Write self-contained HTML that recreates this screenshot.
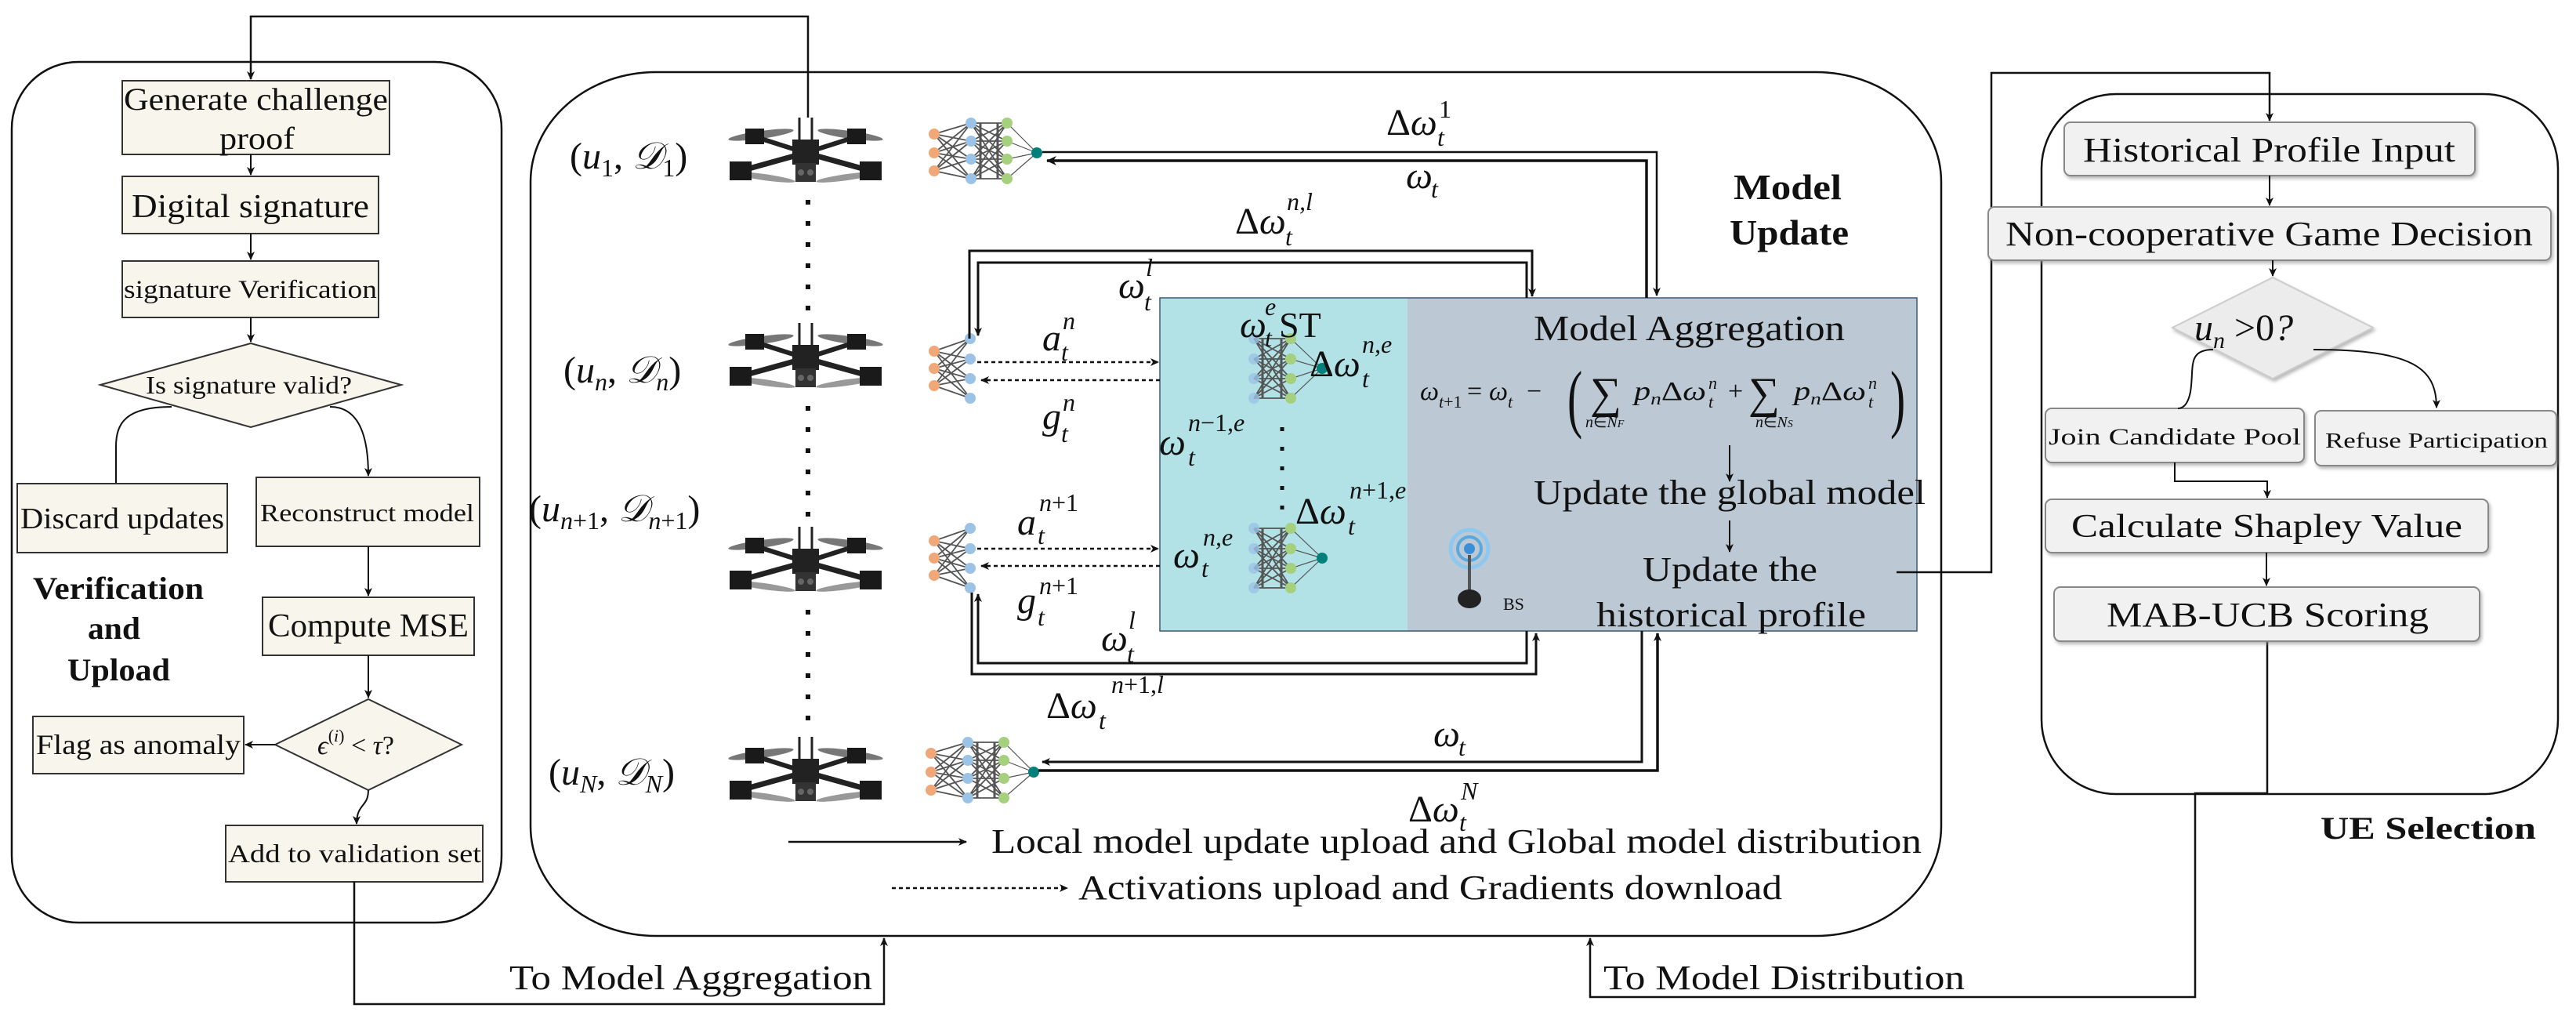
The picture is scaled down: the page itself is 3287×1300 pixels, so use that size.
<!DOCTYPE html>
<html><head><meta charset="utf-8"><style>
html,body{margin:0;padding:0;background:#fff;}
svg{display:block;}
text{font-family:"Liberation Serif",serif;fill:#111;}
.it{font-style:italic;}
</style></head><body>
<svg width="3287" height="1300" viewBox="0 0 3287 1300" xmlns="http://www.w3.org/2000/svg">
<defs>
<marker id="ar" markerWidth="14" markerHeight="12" refX="12" refY="6" orient="auto" markerUnits="userSpaceOnUse"><path d="M0,0 L13,6 L0,12 L4,6 Z" fill="#111"/></marker>
<marker id="ars" markerWidth="12" markerHeight="10" refX="10" refY="5" orient="auto" markerUnits="userSpaceOnUse"><path d="M0,0 L11,5 L0,10 L3,5 Z" fill="#111"/></marker>
<filter id="sh" x="-5%" y="-10%" width="110%" height="130%"><feDropShadow dx="2" dy="3" stdDeviation="2" flood-color="#888" flood-opacity="0.6"/></filter>
<symbol id="drone" viewBox="0 0 210 90" width="210" height="90">
<rect x="0" y="0" width="210" height="90" fill="#fff"/>
<line x1="97" y1="0" x2="97" y2="32" stroke="#222" stroke-width="3"/>
<line x1="113" y1="0" x2="113" y2="32" stroke="#222" stroke-width="3"/>
<ellipse cx="48" cy="22" rx="42" ry="5" fill="#777" transform="rotate(-8 48 22)"/>
<ellipse cx="162" cy="22" rx="42" ry="5" fill="#777" transform="rotate(8 162 22)"/>
<ellipse cx="52" cy="76" rx="40" ry="4" fill="#999" transform="rotate(8 52 76)"/>
<ellipse cx="158" cy="76" rx="40" ry="4" fill="#999" transform="rotate(-8 158 76)"/>
<line x1="105" y1="45" x2="22" y2="68" stroke="#222" stroke-width="7"/>
<line x1="105" y1="45" x2="188" y2="68" stroke="#222" stroke-width="7"/>
<line x1="105" y1="45" x2="42" y2="25" stroke="#222" stroke-width="6"/>
<line x1="105" y1="45" x2="168" y2="25" stroke="#222" stroke-width="6"/>
<rect x="8" y="56" width="28" height="24" fill="#1a1a1a"/>
<rect x="174" y="56" width="28" height="24" fill="#1a1a1a"/>
<rect x="28" y="14" width="24" height="20" fill="#1a1a1a"/>
<rect x="158" y="14" width="24" height="20" fill="#1a1a1a"/>
<rect x="88" y="28" width="34" height="32" fill="#222"/>
<rect x="92" y="58" width="26" height="24" fill="#333"/>
<circle cx="99" cy="70" r="4" fill="#666"/><circle cx="111" cy="70" r="4" fill="#666"/>
</symbol>
<g id="nnfull">
<g stroke="#555" stroke-width="1.8">
<path d="M7,21L54,7M7,21L54,30M7,21L54,53M7,21L54,78M7,45L54,7M7,45L54,30M7,45L54,53M7,45L54,78M7,68L54,7M7,68L54,30M7,68L54,53M7,68L54,78"/>
<path d="M54,7L100,7M54,7L100,30M54,7L100,53M54,7L100,78M54,30L100,7M54,30L100,30M54,30L100,53M54,30L100,78M54,53L100,7M54,53L100,30M54,53L100,53M54,53L100,78M54,78L100,7M54,78L100,30M54,78L100,53M54,78L100,78"/>
<path d="M66,7V78M88,7V78" stroke-width="3"/>
<path d="M100,7L138,45M100,30L138,45M100,53L138,45M100,78L138,45" stroke-width="1.2"/>
</g>
<g fill="#f0a878"><circle cx="7" cy="21" r="7"/><circle cx="7" cy="45" r="7"/><circle cx="7" cy="68" r="7"/></g>
<g fill="#9cc3e6"><circle cx="54" cy="7" r="7"/><circle cx="54" cy="30" r="7"/><circle cx="54" cy="53" r="7"/><circle cx="54" cy="78" r="7"/></g>
<g fill="#a5d07e"><circle cx="100" cy="7" r="7"/><circle cx="100" cy="30" r="7"/><circle cx="100" cy="53" r="7"/><circle cx="100" cy="78" r="7"/></g>
<circle cx="138" cy="45" r="7" fill="#00807a"/>
</g>
<g id="nnpart">
<g stroke="#555" stroke-width="1.8">
<path d="M7,18L53,2M7,18L53,28M7,18L53,53M7,18L53,78M7,40L53,2M7,40L53,28M7,40L53,53M7,40L53,78M7,62L53,2M7,62L53,28M7,62L53,53M7,62L53,78"/>
</g>
<g fill="#f0a878"><circle cx="7" cy="18" r="7"/><circle cx="7" cy="40" r="7"/><circle cx="7" cy="62" r="7"/></g>
<g fill="#9cc3e6"><circle cx="53" cy="2" r="7"/><circle cx="53" cy="28" r="7"/><circle cx="53" cy="53" r="7"/><circle cx="53" cy="78" r="7"/></g>
</g>
<g id="nnsrv">
<g stroke="#555" stroke-width="1.8">
<path d="M5,2L52,2M5,2L52,28M5,2L52,53M5,2L52,78M5,28L52,2M5,28L52,28M5,28L52,53M5,28L52,78M5,53L52,2M5,53L52,28M5,53L52,53M5,53L52,78M5,78L52,2M5,78L52,28M5,78L52,53M5,78L52,78"/>
<path d="M16,2V78M40,2V78" stroke-width="3"/>
<path d="M52,2L92,40M52,28L92,40M52,53L92,40M52,78L92,40" stroke-width="1.2"/>
</g>
<g fill="#9cc3e6" opacity="0.8"><circle cx="5" cy="2" r="7"/><circle cx="5" cy="28" r="7"/><circle cx="5" cy="53" r="7"/><circle cx="5" cy="78" r="7"/></g>
<g fill="#a5d07e"><circle cx="52" cy="2" r="7"/><circle cx="52" cy="28" r="7"/><circle cx="52" cy="53" r="7"/><circle cx="52" cy="78" r="7"/></g>
<circle cx="92" cy="40" r="7" fill="#00807a"/>
</g>
</defs>

<!-- ===== Panels ===== -->
<rect x="15" y="79" width="625" height="1098" rx="85" ry="85" fill="none" stroke="#111" stroke-width="2.5"/>
<rect x="677" y="92" width="1800" height="1102" rx="160" ry="140" fill="none" stroke="#111" stroke-width="2.5"/>
<rect x="2605" y="120" width="659" height="893" rx="95" ry="95" fill="none" stroke="#111" stroke-width="2.5"/>

<!-- ===== Left flowchart ===== -->
<g fill="#f8f6ec" stroke="#333" stroke-width="2">
<rect x="156" y="103" width="341" height="94"/>
<rect x="156" y="225" width="327" height="73"/>
<rect x="156" y="333" width="327" height="72"/>
<polygon points="128,491 320,438 512,491 320,545"/>
<rect x="22" y="617" width="268" height="88"/>
<rect x="327" y="609" width="285" height="88"/>
<rect x="335" y="762" width="270" height="74"/>
<polygon points="351,950 470,892 589,950 470,1008"/>
<rect x="42" y="914" width="269" height="73"/>
<rect x="288" y="1053" width="328" height="72"/>
</g>
<text x="158" y="140" font-size="40" textLength="337" lengthAdjust="spacingAndGlyphs">Generate challenge</text>
<text x="280" y="190" font-size="40" textLength="96" lengthAdjust="spacingAndGlyphs">proof</text>
<text x="168" y="277" font-size="42" textLength="303" lengthAdjust="spacingAndGlyphs">Digital signature</text>
<text x="158" y="380" font-size="33" textLength="323" lengthAdjust="spacingAndGlyphs">signature Verification</text>
<text x="186" y="502" font-size="32" textLength="263" lengthAdjust="spacingAndGlyphs">Is signature valid?</text>
<text x="26" y="674" font-size="38" textLength="260" lengthAdjust="spacingAndGlyphs">Discard updates</text>
<text x="332" y="665" font-size="32" textLength="273" lengthAdjust="spacingAndGlyphs">Reconstruct model</text>
<text x="342" y="812" font-size="42" textLength="256" lengthAdjust="spacingAndGlyphs">Compute MSE</text>
<text x="46" y="962" font-size="36" textLength="261" lengthAdjust="spacingAndGlyphs">Flag as anomaly</text>
<text x="405" y="962" font-size="34"><tspan class="it">ϵ</tspan><tspan font-size="22" dy="-16">(</tspan><tspan font-size="22" class="it">i</tspan><tspan font-size="22">)</tspan><tspan dy="16"> &lt; </tspan><tspan class="it">τ</tspan>?</text>
<text x="291" y="1100" font-size="33" textLength="323" lengthAdjust="spacingAndGlyphs">Add to validation set</text>
<text x="42" y="764" font-size="40" font-weight="bold" textLength="218" lengthAdjust="spacingAndGlyphs">Verification</text>
<text x="112" y="815" font-size="40" font-weight="bold" textLength="67" lengthAdjust="spacingAndGlyphs">and</text>
<text x="86" y="868" font-size="40" font-weight="bold" textLength="131" lengthAdjust="spacingAndGlyphs">Upload</text>
<g fill="none" stroke="#111" stroke-width="2">
<path d="M320,197 V223" marker-end="url(#ars)"/>
<path d="M320,298 V331" marker-end="url(#ars)"/>
<path d="M320,405 V436" marker-end="url(#ars)"/>
<path d="M219,519 C160,519 148,540 148,570 L148,616"/>
<path d="M421,519 C460,519 470,560 470,607" marker-end="url(#ars)"/>
<path d="M470,697 V760" marker-end="url(#ars)"/>
<path d="M470,836 V890" marker-end="url(#ars)"/>
<path d="M351,950 H313" marker-end="url(#ars)"/>
<path d="M470,1008 C470,1030 455,1025 455,1051" marker-end="url(#ars)"/>
</g>
<path d="M1031,152 V21 H320 V101" fill="none" stroke="#111" stroke-width="2.5" marker-end="url(#ars)"/>
<path d="M452,1125 V1281 H1128 V1197" fill="none" stroke="#111" stroke-width="2.5" marker-end="url(#ars)"/>
<text x="650" y="1262" font-size="44" textLength="463" lengthAdjust="spacingAndGlyphs">To Model Aggregation</text>
<path d="M2893,818 V1012 H2801 V1272 H2029 V1197" fill="none" stroke="#111" stroke-width="2.5" marker-end="url(#ars)"/>
<text x="2046" y="1262" font-size="44" textLength="461" lengthAdjust="spacingAndGlyphs">To Model Distribution</text>

<!-- ===== Middle ===== -->
<rect x="1480" y="380" width="316" height="425" fill="#b2e2e6"/>
<rect x="1796" y="380" width="650" height="425" fill="#bcc9d4"/>
<rect x="1480" y="380" width="966" height="425" fill="none" stroke="#3a5a78" stroke-width="1.5"/>

<text x="2212" y="254" font-size="46" font-weight="bold" textLength="138" lengthAdjust="spacingAndGlyphs">Model</text>
<text x="2207" y="312" font-size="46" font-weight="bold" textLength="152" lengthAdjust="spacingAndGlyphs">Update</text>

<use href="#drone" x="923" y="150" width="210" height="90"/>
<use href="#drone" x="923" y="412" width="210" height="90"/>
<use href="#drone" x="923" y="672" width="210" height="90"/>
<use href="#drone" x="923" y="940" width="210" height="90"/>
<line x1="1031" y1="255" x2="1031" y2="405" stroke="#111" stroke-width="6" stroke-dasharray="6 21"/>
<line x1="1031" y1="518" x2="1031" y2="668" stroke="#111" stroke-width="6" stroke-dasharray="6 21"/>
<line x1="1031" y1="778" x2="1031" y2="935" stroke="#111" stroke-width="6" stroke-dasharray="6 21"/>

<text x="727" y="215" font-size="48">(<tspan class="it">u</tspan><tspan font-size="32" dy="10">1</tspan><tspan dy="-10">, </tspan><tspan class="it">𝒟</tspan><tspan font-size="32" dy="10">1</tspan><tspan dy="-10">)</tspan></text>
<text x="719" y="488" font-size="48">(<tspan class="it">u</tspan><tspan font-size="32" dy="10" class="it">n</tspan><tspan dy="-10">, </tspan><tspan class="it">𝒟</tspan><tspan font-size="32" dy="10" class="it">n</tspan><tspan dy="-10">)</tspan></text>
<text x="675" y="665" font-size="48">(<tspan class="it">u</tspan><tspan font-size="32" dy="10" class="it">n</tspan><tspan font-size="32">+1</tspan><tspan dy="-10">, </tspan><tspan class="it">𝒟</tspan><tspan font-size="32" dy="10" class="it">n</tspan><tspan font-size="32">+1</tspan><tspan dy="-10">)</tspan></text>
<text x="700" y="1001" font-size="48">(<tspan class="it">u</tspan><tspan font-size="32" dy="10" class="it">N</tspan><tspan dy="-10">, </tspan><tspan class="it">𝒟</tspan><tspan font-size="32" dy="10" class="it">N</tspan><tspan dy="-10">)</tspan></text>

<use href="#nnfull" transform="translate(1185,150)"/>
<use href="#nnfull" transform="translate(1181,940)"/>
<use href="#nnpart" transform="translate(1185,430)"/>
<use href="#nnpart" transform="translate(1185,672)"/>
<use href="#nnsrv" transform="translate(1595,430)"/>
<use href="#nnsrv" transform="translate(1595,672)"/>
<line x1="1636" y1="545" x2="1636" y2="668" stroke="#111" stroke-width="5" stroke-dasharray="5 20"/>

<g fill="none" stroke="#111">
<path d="M1330,194 H2114 V377" stroke-width="2.5" marker-end="url(#ars)"/>
<path d="M2101,380 V205 H1336" stroke-width="3.5" marker-end="url(#ar)"/>
<path d="M1237,432 V320 H1955 V378" stroke-width="3" marker-end="url(#ars)"/>
<path d="M1948,380 V335 H1248 V428" stroke-width="3" marker-end="url(#ars)"/>
<path d="M1948,805 V846 H1248 V758" stroke-width="3" marker-end="url(#ars)"/>
<path d="M1240,756 V860 H1960 V808" stroke-width="3" marker-end="url(#ars)"/>
<path d="M2095,805 V972 H1330" stroke-width="3" marker-end="url(#ars)"/>
<path d="M1325,983 H2115 V808" stroke-width="3.5" marker-end="url(#ars)"/>
<path d="M1247,462 H1478" stroke-width="2.5" stroke-dasharray="5 4" marker-end="url(#ars)"/>
<path d="M1480,485 H1252" stroke-width="2.5" stroke-dasharray="5 4" marker-end="url(#ars)"/>
<path d="M1247,700 H1478" stroke-width="2.5" stroke-dasharray="5 4" marker-end="url(#ars)"/>
<path d="M1480,722 H1252" stroke-width="2.5" stroke-dasharray="5 4" marker-end="url(#ars)"/>
<path d="M2207,568 V614" stroke-width="2" marker-end="url(#ars)"/>
<path d="M2207,664 V704" stroke-width="2" marker-end="url(#ars)"/>
<path d="M2420,730 H2541 V93 H2896 V154" stroke-width="2.5" marker-end="url(#ars)"/>
<path d="M1006,1074 H1233" stroke-width="2.5" marker-end="url(#ars)"/>
<path d="M1138,1133 H1362" stroke-width="2.5" stroke-dasharray="5 4" marker-end="url(#ars)"/>
</g>

<g font-size="48">
<text x="1769" y="172">Δ<tspan class="it">ω</tspan></text><text x="1836" y="150" font-size="32">1</text><text x="1834" y="186" font-size="32" class="it">t</text>
<text x="1794" y="240" class="it">ω</text><text x="1826" y="252" font-size="32" class="it">t</text>
<text x="1576" y="298">Δ<tspan class="it">ω</tspan></text><text x="1642" y="268" font-size="32" class="it">n,l</text><text x="1640" y="313" font-size="32" class="it">t</text>
<text x="1427" y="380" class="it">ω</text><text x="1462" y="352" font-size="32" class="it">l</text><text x="1460" y="396" font-size="32" class="it">t</text>
<text x="1330" y="447" class="it">a</text><text x="1356" y="420" font-size="32" class="it">n</text><text x="1354" y="460" font-size="32" class="it">t</text>
<text x="1330" y="547" class="it">g</text><text x="1356" y="524" font-size="32" class="it">n</text><text x="1354" y="564" font-size="32" class="it">t</text>
<text x="1582" y="430" class="it">ω</text><text x="1614" y="402" font-size="32" class="it">e</text><text x="1614" y="442" font-size="32" class="it">t</text><text x="1632" y="430" font-size="46">ST</text>
<text x="1671" y="480">Δ<tspan class="it">ω</tspan></text><text x="1738" y="450" font-size="32" class="it">n,e</text><text x="1738" y="494" font-size="32" class="it">t</text>
<text x="1479" y="580" class="it">ω</text><text x="1516" y="550" font-size="32"><tspan class="it">n</tspan>−1,<tspan class="it">e</tspan></text><text x="1516" y="594" font-size="32" class="it">t</text>
<text x="1653" y="668">Δ<tspan class="it">ω</tspan></text><text x="1722" y="636" font-size="32"><tspan class="it">n</tspan>+1,<tspan class="it">e</tspan></text><text x="1720" y="682" font-size="32" class="it">t</text>
<text x="1298" y="682" class="it">a</text><text x="1326" y="652" font-size="32"><tspan class="it">n</tspan>+1</text><text x="1324" y="694" font-size="32" class="it">t</text>
<text x="1497" y="724" class="it">ω</text><text x="1535" y="696" font-size="32" class="it">n,e</text><text x="1533" y="736" font-size="32" class="it">t</text>
<text x="1298" y="782" class="it">g</text><text x="1326" y="758" font-size="32"><tspan class="it">n</tspan>+1</text><text x="1324" y="798" font-size="32" class="it">t</text>
<text x="1405" y="830" class="it">ω</text><text x="1440" y="802" font-size="32" class="it">l</text><text x="1438" y="845" font-size="32" class="it">t</text>
<text x="1335" y="916">Δ<tspan class="it">ω</tspan></text><text x="1418" y="884" font-size="32"><tspan class="it">n</tspan>+1,<tspan class="it">l</tspan></text><text x="1402" y="930" font-size="32" class="it">t</text>
<text x="1829" y="952" class="it">ω</text><text x="1861" y="964" font-size="32" class="it">t</text>
<text x="1797" y="1048">Δ<tspan class="it">ω</tspan></text><text x="1864" y="1020" font-size="32" class="it">N</text><text x="1862" y="1060" font-size="32" class="it">t</text>
</g>

<text x="1957" y="434" font-size="46" textLength="397" lengthAdjust="spacingAndGlyphs">Model Aggregation</text>
<g font-size="34">
<text x="1812" y="510" class="it">ω</text><text x="1836" y="520" font-size="22"><tspan class="it">t</tspan>+1</text>
<text x="1872" y="510">=</text>
<text x="1900" y="510" class="it">ω</text><text x="1924" y="520" font-size="22" class="it">t</text>
<text x="1948" y="510">−</text>
<text x="2000" y="540" font-size="96" transform="translate(2000,0) scale(0.6,1) translate(-2000,0)">(</text>
<text x="2029" y="520" font-size="56">∑</text>
<text x="2023" y="545" font-size="20"><tspan class="it">n</tspan>∈<tspan class="it">N</tspan><tspan font-size="14" class="it">F</tspan></text>
<text x="2085" y="510" textLength="92" lengthAdjust="spacingAndGlyphs"><tspan class="it">p</tspan><tspan font-size="22" class="it" dy="6">n</tspan><tspan dy="-6">Δ</tspan><tspan class="it">ω</tspan></text>
<text x="2180" y="496" font-size="22" class="it">n</text><text x="2180" y="520" font-size="22" class="it">t</text>
<text x="2205" y="510">+</text>
<text x="2231" y="520" font-size="56">∑</text>
<text x="2240" y="545" font-size="20"><tspan class="it">n</tspan>∈<tspan class="it">N</tspan><tspan font-size="14" class="it">S</tspan></text>
<text x="2289" y="510" textLength="92" lengthAdjust="spacingAndGlyphs"><tspan class="it">p</tspan><tspan font-size="22" class="it" dy="6">n</tspan><tspan dy="-6">Δ</tspan><tspan class="it">ω</tspan></text>
<text x="2384" y="496" font-size="22" class="it">n</text><text x="2384" y="520" font-size="22" class="it">t</text>
<text x="2412" y="540" font-size="96" transform="translate(2412,0) scale(0.6,1) translate(-2412,0)">)</text>
</g>
<text x="1957" y="643" font-size="44" textLength="500" lengthAdjust="spacingAndGlyphs">Update the global model</text>
<text x="2096" y="741" font-size="44" textLength="223" lengthAdjust="spacingAndGlyphs">Update the</text>
<text x="2037" y="799" font-size="44" textLength="344" lengthAdjust="spacingAndGlyphs">historical profile</text>
<g>
<circle cx="1875" cy="700" r="24" fill="none" stroke="#8fc8ee" stroke-width="5"/>
<circle cx="1875" cy="700" r="15" fill="none" stroke="#5aa8e0" stroke-width="4"/>
<circle cx="1875" cy="700" r="7" fill="#3a8fd8"/>
<line x1="1875" y1="708" x2="1875" y2="758" stroke="#555" stroke-width="4"/>
<ellipse cx="1875" cy="764" rx="15" ry="12" fill="#222"/>
<text x="1918" y="778" font-size="22">BS</text>
</g>

<text x="1265" y="1088" font-size="44" textLength="1187" lengthAdjust="spacingAndGlyphs">Local model update upload and Global model distribution</text>
<text x="1376" y="1147" font-size="44" textLength="898" lengthAdjust="spacingAndGlyphs">Activations upload and Gradients download</text>

<!-- ===== Right panel ===== -->
<g fill="#f1f1f1" stroke="#888" stroke-width="2" filter="url(#sh)">
<rect x="2634" y="156" width="524" height="68" rx="8"/>
<rect x="2537" y="264" width="718" height="68" rx="8"/>
<polygon points="2772,418 2900,354 3028,418 2900,483" fill="#ececec" stroke="#ccc"/>
<rect x="2610" y="521" width="330" height="69" rx="8"/>
<rect x="2954" y="524" width="308" height="70" rx="8"/>
<rect x="2610" y="637" width="565" height="68" rx="8"/>
<rect x="2621" y="749" width="543" height="69" rx="8"/>
</g>
<text x="2658" y="206" font-size="44" textLength="475" lengthAdjust="spacingAndGlyphs">Historical Profile Input</text>
<text x="2559" y="313" font-size="44" textLength="673" lengthAdjust="spacingAndGlyphs">Non-cooperative Game Decision</text>
<text x="2800" y="434" font-size="48"><tspan class="it">u</tspan><tspan font-size="30" class="it" dy="10">n</tspan><tspan dy="-10"> &gt;0</tspan><tspan class="it">?</tspan></text>
<text x="2614" y="567" font-size="30" textLength="322" lengthAdjust="spacingAndGlyphs">Join Candidate Pool</text>
<text x="2967" y="571" font-size="27" textLength="284" lengthAdjust="spacingAndGlyphs">Refuse Participation</text>
<text x="2643" y="685" font-size="42" textLength="499" lengthAdjust="spacingAndGlyphs">Calculate Shapley Value</text>
<text x="2688" y="799" font-size="44" textLength="411" lengthAdjust="spacingAndGlyphs">MAB-UCB Scoring</text>
<text x="2961" y="1070" font-size="40" font-weight="bold" textLength="275" lengthAdjust="spacingAndGlyphs">UE Selection</text>
<g fill="none" stroke="#111" stroke-width="2">
<path d="M2896,224 V262" marker-end="url(#ars)"/>
<path d="M2900,332 V352" marker-end="url(#ars)"/>
<path d="M2824,446 C2790,446 2800,470 2795,500 C2792,515 2786,521 2779,521"/>
<path d="M2952,446 C3080,446 3109,470 3109,520" marker-end="url(#ars)"/>
<path d="M2775,590 V614 H2893 V635" marker-end="url(#ars)"/>
<path d="M2892,705 V747" marker-end="url(#ars)"/>
</g>
</svg>
</body></html>
